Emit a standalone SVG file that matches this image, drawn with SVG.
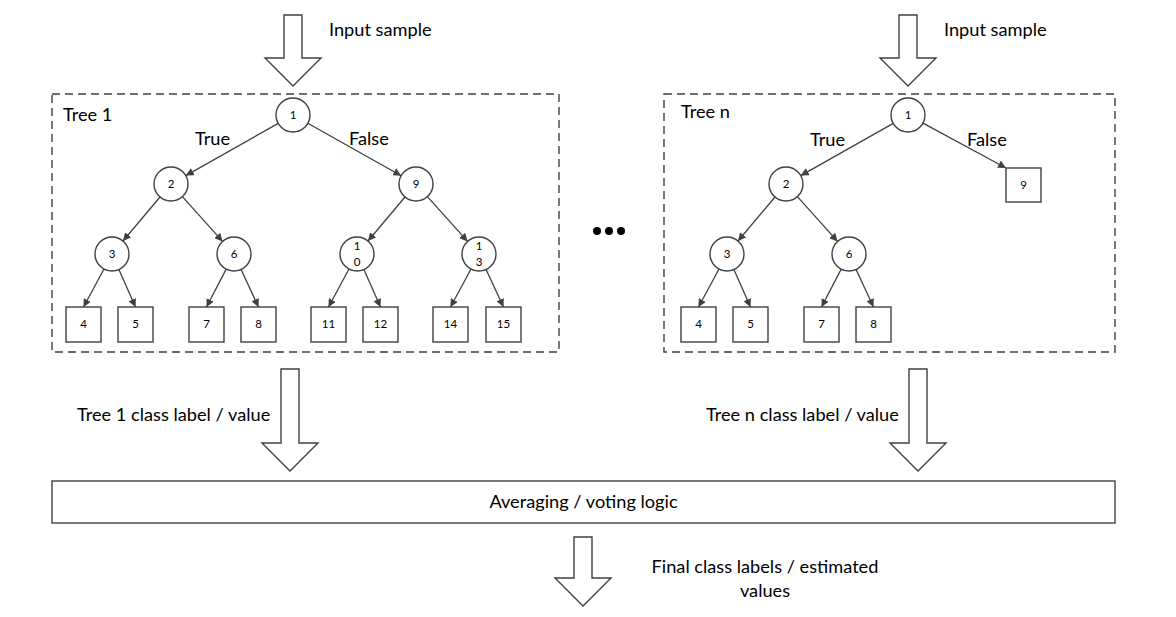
<svg xmlns="http://www.w3.org/2000/svg" width="1176" height="617" viewBox="0 0 1176 617">
<style>
text{font-family:"Lato","Liberation Sans",sans-serif;fill:#000}
.lbl{font-size:18.2px}
.num{font-size:11.5px;text-anchor:middle}
.nd{fill:#fff;stroke:#404040;stroke-width:1.4}
.frame{fill:none;stroke:#404040;stroke-width:1.4;stroke-dasharray:8 5}
.blk{fill:#fff;stroke:#404040;stroke-width:1.4}
.edge{stroke:#404040;stroke-width:1.3;fill:none;marker-end:url(#ah)}
</style>
<defs>
<marker id="ah" viewBox="0 0 10 10" refX="10" refY="5" markerWidth="8" markerHeight="8" markerUnits="userSpaceOnUse" orient="auto">
<path d="M0,0 L10,5 L0,10 z" fill="#404040"/>
</marker>
</defs>
<rect width="1176" height="617" fill="#fff"/>

<g id="input-arrow-1">
<polygon class="blk" points="284,15 302,15 302,58 321,58 293,86 265,58 284,58"/>
<text class="lbl" x="329" y="36">Input sample</text>
</g>
<g id="input-arrow-n">
<polygon class="blk" points="899,15 917,15 917,58 936,58 908,86 880,58 899,58"/>
<text class="lbl" x="944" y="36">Input sample</text>
</g>

<g id="tree1-frame">
<rect class="frame" x="52" y="94" width="507" height="258"/>
<text class="lbl" x="63" y="121">Tree 1</text>
<text class="lbl" x="195" y="145">True</text>
<text class="lbl" x="349" y="145">False</text>
</g>
<g id="treen-frame">
<rect class="frame" x="664" y="94" width="451" height="258"/>
<text class="lbl" x="681" y="118">Tree n</text>
<text class="lbl" x="810" y="146">True</text>
<text class="lbl" x="967" y="146">False</text>
</g>

<g id="connectors">
<line class="edge" x1="278.2" y1="123.4" x2="185.8" y2="175.6"/>
<line class="edge" x1="307.8" y1="123.3" x2="401.2" y2="175.7"/>
<line class="edge" x1="160" y1="197" x2="123" y2="241"/>
<line class="edge" x1="182.4" y1="196.6" x2="222.6" y2="241.4"/>
<line class="edge" x1="405" y1="197" x2="368" y2="241"/>
<line class="edge" x1="427.4" y1="196.6" x2="467.6" y2="241.4"/>
<line class="edge" x1="104" y1="269" x2="83.5" y2="307"/>
<line class="edge" x1="118.9" y1="269.5" x2="135.5" y2="307"/>
<line class="edge" x1="226.2" y1="269.1" x2="206.5" y2="307"/>
<line class="edge" x1="241.1" y1="269.4" x2="258.5" y2="307"/>
<line class="edge" x1="349" y1="269" x2="328.5" y2="307"/>
<line class="edge" x1="363.9" y1="269.5" x2="380.5" y2="307"/>
<line class="edge" x1="471" y1="269" x2="450.5" y2="307"/>
<line class="edge" x1="486.1" y1="269.4" x2="503.5" y2="307"/>

<line class="edge" x1="893.2" y1="123.4" x2="800.8" y2="175.6"/>
<line class="edge" x1="923" y1="123.1" x2="1006" y2="168"/>
<line class="edge" x1="775" y1="197" x2="738" y2="241"/>
<line class="edge" x1="797.4" y1="196.6" x2="837.6" y2="241.4"/>
<line class="edge" x1="719" y1="269" x2="698.5" y2="307"/>
<line class="edge" x1="733.9" y1="269.5" x2="750.5" y2="307"/>
<line class="edge" x1="841.2" y1="269.1" x2="821.5" y2="307"/>
<line class="edge" x1="856.1" y1="269.4" x2="873.5" y2="307"/>
</g>

<g id="t1-n1"><circle class="nd" cx="293" cy="115" r="17"/><text class="num" x="293" y="119">1</text></g>
<g id="t1-n2"><circle class="nd" cx="171" cy="184" r="17"/><text class="num" x="171" y="188">2</text></g>
<g id="t1-n9"><circle class="nd" cx="416" cy="184" r="17"/><text class="num" x="416" y="188">9</text></g>
<g id="t1-n3"><circle class="nd" cx="112" cy="254" r="17"/><text class="num" x="112" y="258">3</text></g>
<g id="t1-n6"><circle class="nd" cx="234" cy="254" r="17"/><text class="num" x="234" y="258">6</text></g>
<g id="t1-n10"><circle class="nd" cx="357" cy="254" r="17"/><text class="num" x="357" y="250">1</text><text class="num" x="357" y="266">0</text></g>
<g id="t1-n13"><circle class="nd" cx="479" cy="254" r="17"/><text class="num" x="479" y="250">1</text><text class="num" x="479" y="266">3</text></g>
<g id="t1-l4"><rect class="nd" x="66" y="307" width="35" height="35"/><text class="num" x="83.5" y="328">4</text></g>
<g id="t1-l5"><rect class="nd" x="118" y="307" width="35" height="35"/><text class="num" x="135.5" y="328">5</text></g>
<g id="t1-l7"><rect class="nd" x="189" y="307" width="35" height="35"/><text class="num" x="206.5" y="328">7</text></g>
<g id="t1-l8"><rect class="nd" x="241" y="307" width="35" height="35"/><text class="num" x="258.5" y="328">8</text></g>
<g id="t1-l11"><rect class="nd" x="311" y="307" width="35" height="35"/><text class="num" x="328.5" y="328">11</text></g>
<g id="t1-l12"><rect class="nd" x="363" y="307" width="35" height="35"/><text class="num" x="380.5" y="328">12</text></g>
<g id="t1-l14"><rect class="nd" x="433" y="307" width="35" height="35"/><text class="num" x="450.5" y="328">14</text></g>
<g id="t1-l15"><rect class="nd" x="486" y="307" width="35" height="35"/><text class="num" x="503.5" y="328">15</text></g>

<g id="tn-n1"><circle class="nd" cx="908" cy="115" r="17"/><text class="num" x="908" y="119">1</text></g>
<g id="tn-n2"><circle class="nd" cx="786" cy="184" r="17"/><text class="num" x="786" y="188">2</text></g>
<g id="tn-l9"><rect class="nd" x="1006" y="168" width="35" height="34"/><text class="num" x="1023.5" y="189">9</text></g>
<g id="tn-n3"><circle class="nd" cx="727" cy="254" r="17"/><text class="num" x="727" y="258">3</text></g>
<g id="tn-n6"><circle class="nd" cx="849" cy="254" r="17"/><text class="num" x="849" y="258">6</text></g>
<g id="tn-l4"><rect class="nd" x="681" y="307" width="35" height="35"/><text class="num" x="698.5" y="328">4</text></g>
<g id="tn-l5"><rect class="nd" x="733" y="307" width="35" height="35"/><text class="num" x="750.5" y="328">5</text></g>
<g id="tn-l7"><rect class="nd" x="804" y="307" width="35" height="35"/><text class="num" x="821.5" y="328">7</text></g>
<g id="tn-l8"><rect class="nd" x="856" y="307" width="35" height="35"/><text class="num" x="873.5" y="328">8</text></g>

<g id="ellipsis">
<circle cx="597" cy="231" r="4" fill="#000"/>
<circle cx="609" cy="231" r="4" fill="#000"/>
<circle cx="621" cy="231" r="4" fill="#000"/>
</g>

<g id="output-arrow-1">
<polygon class="blk" points="281,369 299,369 299,443 318,443 290,471 262,443 281,443"/>
<text class="lbl" x="77" y="421">Tree 1 class label / value</text>
</g>
<g id="output-arrow-n">
<polygon class="blk" points="909,369 927,369 927,443 946,443 918,471 890,443 909,443"/>
<text class="lbl" x="706" y="421">Tree n class label / value</text>
</g>

<g id="voting">
<rect class="blk" x="52" y="481" width="1063" height="42"/>
<text class="lbl" x="583.5" y="508" text-anchor="middle">Averaging / voting logic</text>
</g>

<g id="final-arrow">
<polygon class="blk" points="574,537 592,537 592,578 611,578 583,606 555,578 574,578"/>
<text class="lbl" x="765" y="573" text-anchor="middle">Final class labels / estimated</text>
<text class="lbl" x="765" y="597" text-anchor="middle">values</text>
</g>
</svg>
